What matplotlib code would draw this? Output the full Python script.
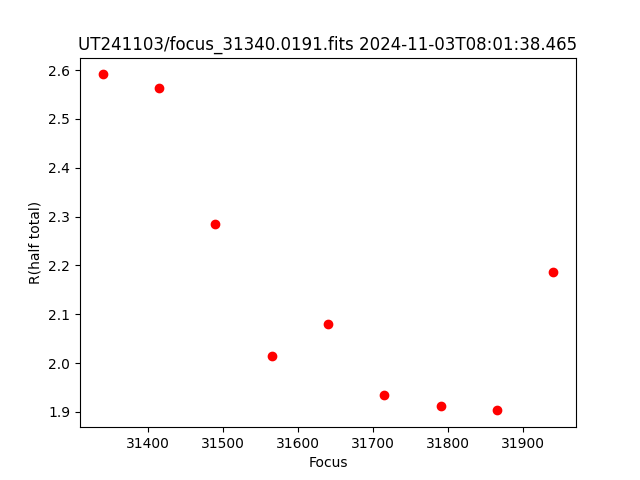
import matplotlib
matplotlib.use("Agg")
import matplotlib.pyplot as plt

focus = [31340, 31415, 31490, 31565, 31640, 31715, 31790, 31865, 31940]
r_half = [2.591, 2.563, 2.284, 2.015, 2.079, 1.935, 1.913, 1.903, 2.186]

fig, ax = plt.subplots(figsize=(6.4, 4.8), dpi=100)
ax.plot(focus, r_half, 'ro')
ax.set_xlabel('Focus')
ax.set_ylabel('R(half total)')
ax.set_title('UT241103/focus_31340.0191.fits 2024-11-03T08:01:38.465')
fig.savefig('out.png')
